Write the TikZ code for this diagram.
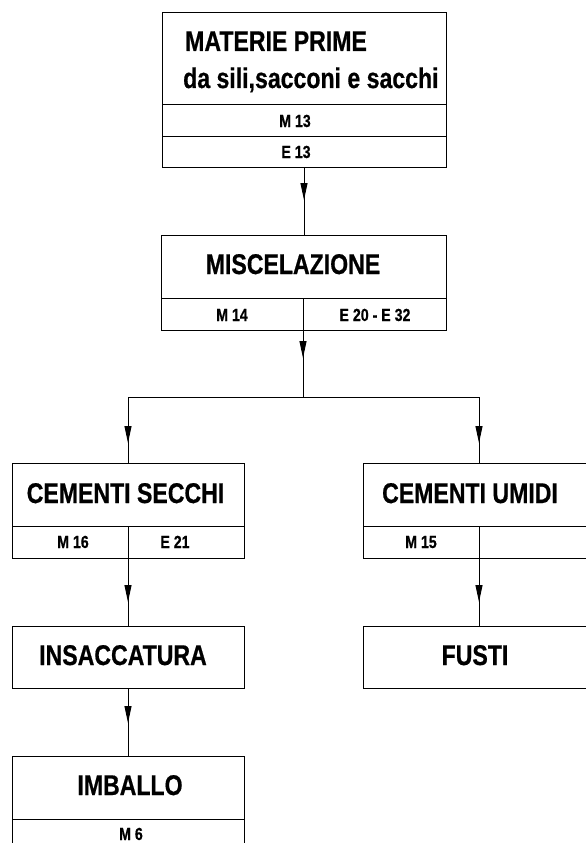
\documentclass[tikz,border=0pt]{standalone}
\usepackage{fontspec}
\setmainfont{Liberation Sans}[FakeStretch=0.81, BoldFeatures={FakeStretch=0.81, FakeBold=0.6}]
\usetikzlibrary{arrows.meta,decorations.markings}
\begin{document}
\begin{tikzpicture}[x=1pt,y=-1pt,
  cell/.style={draw, line width=1pt, anchor=north west, inner sep=0pt, outer sep=0pt},
  big/.style={font=\fontsize{28.5}{31}\selectfont\bfseries, inner sep=0pt, anchor=base},
  small/.style={font=\fontsize{17.5}{19}\selectfont\bfseries, inner sep=0pt, anchor=base},
  conn/.style={line width=1pt},
  midarrow/.style={postaction={decorate}, decoration={markings, mark=at position #1 with {\arrow{Triangle[length=17pt,width=7pt]}}}}
]
\useasboundingbox (0,0) rectangle (586,843);
\clip (0,0) rectangle (586,843);

% top box
\node[cell, minimum width=284pt, minimum height=91pt] (mat) at (162,13) {};
\node[cell, minimum width=284pt, minimum height=32pt] (matm) at (162,104) {};
\node[cell, minimum width=284pt, minimum height=31pt] (mate) at (162,136) {};
\node[big, anchor=base west] (matT1) at (185,51) {MATERIE PRIME};
\node[big, anchor=base west] (matT2) at (183,88) {da sili,sacconi e sacchi};
\node[small] (matM) at (295,127) {M 13};
\node[small] (matE) at (296,158) {E 13};

% miscelazione
\node[cell, minimum width=285pt, minimum height=63pt] (mis) at (161,235) {};
\node[cell, minimum width=142pt, minimum height=32pt] (misM) at (161,298) {};
\node[cell, minimum width=143pt, minimum height=32pt] (misE) at (303,298) {};
\node[big] (misT) at (293,274) {MISCELAZIONE};
\node[small] (misMT) at (232,321) {M 14};
\node[small] (misET) at (375,321) {E 20 - E 32};

% cementi secchi
\node[cell, minimum width=232pt, minimum height=63pt] (cs) at (12,463) {};
\node[cell, minimum width=116pt, minimum height=32pt] (csM) at (12,526) {};
\node[cell, minimum width=116pt, minimum height=32pt] (csE) at (128,526) {};
\node[big] (csT) at (125.5,503) {CEMENTI SECCHI};
\node[small] (csMT) at (73,548) {M 16};
\node[small] (csET) at (175,548) {E 21};

% cementi umidi
\node[cell, minimum width=232pt, minimum height=63pt] (cu) at (363,463) {};
\node[cell, minimum width=116pt, minimum height=32pt] (cuM) at (363,526) {};
\node[cell, minimum width=116pt, minimum height=32pt] (cuE) at (479,526) {};
\node[big] (cuT) at (470,503) {CEMENTI UMIDI};
\node[small] (cuMT) at (421,548) {M 15};

% insaccatura, fusti, imballo
\node[cell, minimum width=232pt, minimum height=62pt] (ins) at (12,626) {};
\node[big] (insT) at (123,665) {INSACCATURA};
\node[cell, minimum width=232pt, minimum height=62pt] (fus) at (363,626) {};
\node[big] (fusT) at (475,665) {FUSTI};
\node[cell, minimum width=232pt, minimum height=63pt] (imb) at (12,756) {};
\node[cell, minimum width=232pt, minimum height=32pt] (imbM) at (12,819) {};
\node[big] (imbT) at (130,795) {IMBALLO};
\node[small] (imbMT) at (131,840) {M 6};

% connectors
\coordinate (split) at (303,397);
\draw[conn, midarrow=33pt] (mate.south) -- (mate.south |- mis.north);
\draw[conn, midarrow=28pt] (misM.south east) -- (split);
\draw[conn] (cs.north |- split) -- (cu.north |- split);
\draw[conn, midarrow=46pt] (cs.north |- split) -- (cs.north);
\draw[conn, midarrow=46pt] (cu.north |- split) -- (cu.north);
\draw[conn, midarrow=44pt] (csM.south east) -- (ins.north);
\draw[conn, midarrow=44pt] (cuM.south east) -- (fus.north);
\draw[conn, midarrow=35pt] (ins.south) -- (imb.north);
\end{tikzpicture}
\end{document}
